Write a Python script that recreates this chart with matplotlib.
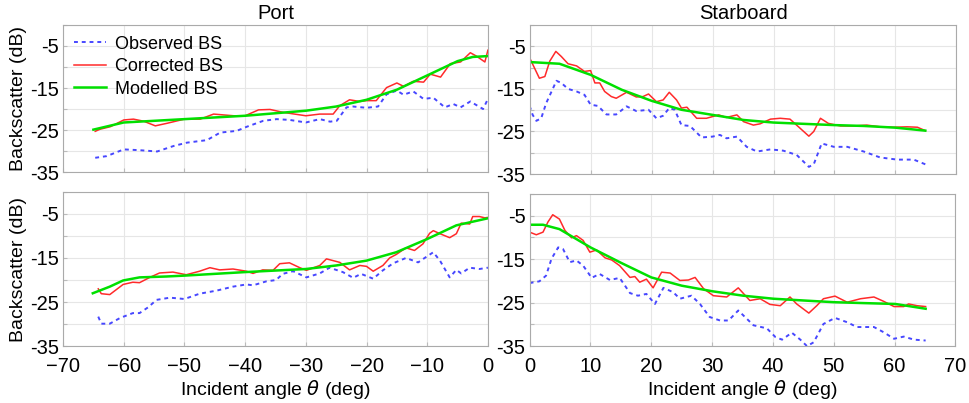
import matplotlib
matplotlib.use("Agg")
import matplotlib.pyplot as plt
import numpy as np

plt.rcParams["font.family"] = ["Liberation Sans", "DejaVu Sans"]
plt.rcParams["mathtext.fontset"] = "dejavusans"

# ---- Port, upper panel ----
pt_obs_x = [-64.7, -62.8, -60, -57.3, -54.5, -51.8, -49.6, -46.3, -44.1, -41.4, -39.7, -37, -34.8, -32.6,
            -30, -27.7, -26, -24.9, -23.3, -22.2, -20, -18.1, -16.7, -15, -13.9, -12.3, -10.6, -9,
            -7.1, -5.7, -4.5, -2.9, -0.8, 0]
pt_obs_y = [-31.6, -31.2, -29.6, -29.8, -30.1, -28.8, -28, -27.4, -25.6, -25.2, -24.2, -22.8, -22.4, -22.6,
            -23.2, -22.4, -23, -22.8, -19.6, -19.4, -19.7, -19.4, -16.5, -15.6, -16.6, -15.8, -17.6, -17.3,
            -19.6, -18.8, -19.6, -18.2, -20, -17.6]
pt_cor_x = [-64.7, -63.9, -62.2, -60, -58.4, -56.7, -54.8, -52.9, -50, -47.4, -45.2, -41.9, -40, -37.8,
            -35.9, -33.7, -30, -27.7, -25.5, -24.4, -22.8, -21.1, -20, -18.4, -16.7, -15, -13.9, -12.3,
            -10.6, -9.5, -7.8, -6.2, -4.5, -2.9, -1.9, -0.5, 0]
pt_cor_y = [-25.3, -24.8, -24.2, -22.6, -22.4, -22.9, -24, -23.4, -22.4, -22.4, -21.2, -21.6, -21.6, -20.2,
            -20.1, -20.8, -21.6, -21.2, -21.2, -19.2, -17.8, -18.2, -18, -18, -14.9, -13.8, -14.6, -13.4,
            -13.6, -11.7, -12.4, -9.2, -8.8, -6.6, -7.4, -8.8, -6]
pt_mod_x = [-65, -60, -50, -40, -30, -25, -20, -15, -10, -5, -2.5, 0]
pt_mod_y = [-24.9, -23.2, -22.4, -21.6, -20.4, -19.4, -17.8, -15.4, -12, -8.6, -7.6, -7.4]

# ---- Starboard, upper panel ----
st_obs_x = [0, 0.5, 1.1, 1.9, 2.7, 3.6, 4.4, 5.2, 6.3, 7.7, 9, 10, 11.2, 12.6, 14.2, 15.9, 17.5, 19.5,
            20.8, 21.9, 22.9, 23.8, 24.9, 26.3, 28.2, 30, 31.2, 32.3, 34, 35.6, 37.3, 39.5, 41.6, 43.8,
            45.8, 46.6, 47.9, 49.9, 52.1, 54.8, 57.5, 60.3, 63, 64.9]
st_obs_y = [-19, -21.1, -22.5, -21.9, -18.4, -15.6, -13.1, -13.6, -15, -15.6, -16.4, -18.7, -19, -21, -21,
            -19.1, -20.2, -19.9, -21.9, -21.3, -19.5, -19.9, -23.5, -23.7, -26.4, -26.2, -25.8, -26.6, -26.2,
            -28.6, -29.7, -29.2, -29.5, -30.5, -33.3, -32.7, -27.8, -28.6, -28.6, -29.7, -31.1, -31.6,
            -31.6, -32.7]
st_cor_x = [0, 0.8, 1.6, 2.5, 3.3, 4.3, 5.2, 6.3, 7.7, 9, 10, 10.7, 11.5, 12.3, 13.4, 14.2, 15.9, 17.5,
            18.6, 19.5, 20.8, 21.9, 22.9, 24.1, 24.9, 25.8, 27.4, 29, 31, 32.3, 34, 35.1, 36.7, 37.8, 39.5,
            41.1, 42.7, 44.1, 45.8, 46.6, 47.7, 49, 51, 53.2, 55.3, 57.5, 59.7, 61.9, 63.6, 64.9]
st_cor_y = [-7.7, -10.1, -12.5, -12.1, -8.5, -6.2, -7.4, -9.1, -9.6, -10.9, -10.7, -13.6, -13.6, -15.6,
            -16.8, -17.2, -15.8, -16.9, -16.8, -16.2, -18, -17.6, -15.8, -17.6, -19.5, -19.3, -21.9, -21.9,
            -21.1, -21.7, -21.1, -22.7, -23.5, -23.2, -22.1, -21.9, -22.1, -23.9, -26.1, -25, -21.9, -23.1,
            -23.7, -23.7, -23.5, -23.9, -24, -23.9, -24, -24.8]
st_mod_x = [0, 4.9, 10, 15.1, 20, 24.9, 30, 35.1, 40, 44.9, 50, 54.8, 60, 64.9]
st_mod_y = [-8.7, -9.1, -11.7, -15.2, -17.8, -19.9, -21.1, -22.3, -22.9, -23.2, -23.5, -23.7, -24.1, -24.8]

# ---- Port, lower panel ----
pb_obs_x = [-64.2, -63.7, -62.3, -60.6, -58.5, -57.4, -56, -54.6, -52.4, -50, -47.5, -44.7, -42, -39.8,
            -38.7, -36.5, -34.9, -33.8, -32.1, -29.9, -27.7, -26.1, -23.9, -22.2, -20.9, -18.9, -17.3,
            -15.6, -13.5, -11.5, -10.1, -9, -7.9, -6.3, -5.2, -4.4, -3, -1.4, 0]
pb_obs_y = [-28.3, -29.9, -29.9, -28.6, -27.5, -27.5, -26.2, -24.5, -24, -24.3, -23.1, -22.4, -21.5, -21,
            -21.2, -20.3, -20, -18.6, -18, -19.4, -18.5, -17.2, -18.2, -19.5, -18.6, -19.7, -17.8, -16.2,
            -15, -16, -14.7, -13.7, -15.6, -19.4, -17.7, -18.5, -17.2, -17.5, -17.2]
pb_cor_x = [-64.2, -63.7, -62.3, -60.1, -58.5, -57.4, -55.7, -54.1, -51.9, -49.7, -47.5, -45.8, -44.2, -42,
            -39.8, -38.7, -37.1, -35.4, -34.3, -32.7, -31, -29.9, -27.7, -26.6, -24.4, -22.8, -21.1, -20,
            -18.9, -17.3, -16.2, -15.1, -13.5, -12.1, -10.7, -9.6, -9, -7.9, -6.3, -5.2, -4.4, -3, -2.5,
            -1.4, -0.5, 0]
pb_cor_y = [-22, -23.1, -23.3, -21, -20.5, -20.6, -19.4, -18.4, -18.2, -18.8, -18, -17.2, -17.7, -17.5,
            -18, -18.5, -17.7, -17.8, -16.3, -16.1, -17.2, -17.8, -16.7, -15.2, -16, -17.7, -16.7, -16.9,
            -18, -16.7, -15, -14.2, -12.7, -13.3, -11.8, -9.4, -8.8, -9.5, -10.4, -9.5, -7.1, -7.3, -5.6,
            -5.6, -5.9, -5.8]
pb_mod_x = [-65.1, -62.3, -60.1, -57.4, -53, -50, -40, -30, -25, -20, -15.1, -10, -5.2, 0]
pb_mod_y = [-23, -21.5, -20.1, -19.4, -19.2, -19, -18.2, -17.5, -16.7, -15.6, -13.7, -10.7, -7.6, -6]

# ---- Starboard, lower panel ----
sb_obs_x = [0, 1.6, 2.7, 3.6, 4.7, 5.5, 6.6, 7.7, 8.8, 10.2, 11.5, 13.2, 14.8, 16.5, 17.8, 19.2, 20.6, 22,
            23.6, 24.7, 26.6, 28, 29.6, 31.3, 32.7, 34.3, 35.7, 36.8, 39, 40.4, 41.5, 43.1, 44.5, 45.6,
            46.7, 48.3, 50.2, 52.2, 53.8, 56.6, 58.2, 59.9, 61.5, 63.2, 65.1]
sb_obs_y = [-20.5, -20.1, -18.8, -14.9, -12.3, -12.7, -15.7, -15.3, -16.5, -19.3, -18.4, -19.8, -19.3,
            -22.8, -23.4, -23, -25.3, -21.6, -22.6, -24.1, -23.4, -25.3, -28.3, -29.1, -29.1, -26.8, -28.7,
            -30.2, -30.9, -32.9, -33.5, -31.9, -33.5, -35, -34.1, -29.9, -28.5, -29.5, -30.6, -30.6, -31.8,
            -33.3, -32.8, -33.5, -33.7]
sb_cor_x = [0, 1.1, 2.2, 3, 3.8, 4.9, 5.8, 6.9, 7.7, 8.8, 9.9, 11, 12.4, 13.5, 14.8, 16.5, 17.3, 18.1,
            19.2, 20.3, 21.7, 23.1, 24.7, 26.1, 27.2, 28.6, 30.2, 32.4, 34.3, 36.2, 37.9, 39.5, 41.2, 42.8,
            43.9, 45.9, 47.2, 48.3, 50.2, 52.2, 54.4, 56.6, 58.2, 59.9, 61.5, 62.3, 63.7, 65.1]
sb_cor_y = [-8.8, -9.4, -8.8, -6.5, -4.8, -5.8, -8.4, -10.1, -9.6, -10.7, -13.4, -12.9, -14.7, -15.2,
            -16.5, -19.2, -19, -20.3, -19.6, -21.6, -18, -18.2, -19.9, -19.8, -19.2, -21.8, -23.4, -23.7,
            -21.6, -24.5, -24.1, -25.4, -25.7, -23.7, -25.3, -27.4, -25.7, -24.1, -23.5, -24.9, -24.1,
            -23.7, -24.7, -25.9, -25.9, -25.3, -25.7, -25.9]
sb_mod_x = [0, 2.2, 4.9, 10, 15.1, 20, 25, 30.1, 35.1, 40.1, 45, 50.1, 54.9, 60.1, 65.1]
sb_mod_y = [-7.1, -7.1, -8.1, -12.3, -15.9, -19.2, -21.1, -22.4, -23.4, -24.1, -24.5, -24.9, -25.1,
            -25.3, -26.4]

port_xticks = [-70, -60, -50, -40, -30, -20, -10, 0]
stbd_xticks = [0, 10, 20, 30, 40, 50, 60, 70]
yticks = [-35, -30, -25, -20, -15, -10, -5, 0]
ytick_labels = ["-35", "", "-25", "", "-15", "", "-5", ""]

blue = "#4747ff"
red = "#ff2a2a"
green = "#00e000"

fig = plt.figure(figsize=(9.7, 4.03), dpi=100)
axes = {
    "pt": fig.add_axes([0.065, 0.573, 0.438, 0.365]),
    "st": fig.add_axes([0.546, 0.568, 0.440, 0.370]),
    "pb": fig.add_axes([0.065, 0.141, 0.438, 0.383]),
    "sb": fig.add_axes([0.546, 0.141, 0.439, 0.378]),
}
data = {
    "pt": (pt_obs_x, pt_obs_y, pt_cor_x, pt_cor_y, pt_mod_x, pt_mod_y),
    "st": (st_obs_x, st_obs_y, st_cor_x, st_cor_y, st_mod_x, st_mod_y),
    "pb": (pb_obs_x, pb_obs_y, pb_cor_x, pb_cor_y, pb_mod_x, pb_mod_y),
    "sb": (sb_obs_x, sb_obs_y, sb_cor_x, sb_cor_y, sb_mod_x, sb_mod_y),
}

for key, ax in axes.items():
    ox, oy, cx, cy, mx, my = data[key]
    ax.plot(ox, oy, color=blue, linestyle=(0, (2, 2)), linewidth=1.4, label="Observed BS")
    ax.plot(cx, cy, color=red, linewidth=1.1, label="Corrected BS")
    ax.plot(mx, my, color=green, linewidth=1.8, label="Modelled BS")
    ax.set_ylim(-35, 0)
    ax.set_yticks(yticks)
    ax.set_yticklabels(ytick_labels)
    if key[0] == "p":
        ax.set_xlim(-70, 0)
        ax.set_xticks(port_xticks)
        ax.set_ylabel("Backscatter (dB)", fontsize=14, labelpad=2)
    else:
        ax.set_xlim(0, 70)
        ax.set_xticks(stbd_xticks)
    if key[1] == "t":
        ax.set_xticklabels([])
    else:
        ax.set_xlabel(r"Incident angle $\theta$ (deg)", fontsize=14, labelpad=1)
    ax.grid(True, color="#e6e6e6", linewidth=0.8)
    ax.set_axisbelow(True)
    ax.tick_params(direction="in", length=3, labelsize=14.5, color="#bbbbbb", pad=3)
    ax.tick_params(axis="x", pad=8)
    for sp in ax.spines.values():
        sp.set_color("#aaaaaa")

axes["pt"].set_title("Port", fontsize=14.5, pad=4)
axes["st"].set_title("Starboard", fontsize=14.5, pad=4)
axes["pt"].legend(loc="upper left", frameon=False, fontsize=13, handlelength=1.8,
                  handletextpad=0.5, labelspacing=0.3, borderaxespad=0.2,
                  bbox_to_anchor=(0.0, 1.0))

fig.savefig("out.png", dpi=100)
